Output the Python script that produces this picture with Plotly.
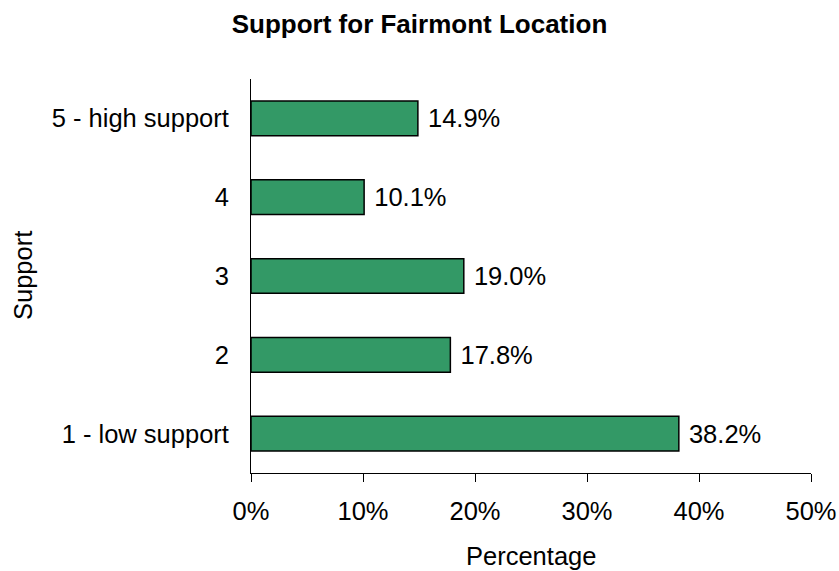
import plotly.graph_objects as go

categories = ["1 - low support", "2", "3", "4", "5 - high support"]
values = [38.2, 17.8, 19.0, 10.1, 14.9]
x_ticks = [0, 10, 20, 30, 40, 50]
x_tick_labels = ["0%", "10%", "20%", "30%", "40%", "50%"]

FONT = "Arial, Liberation Sans, sans-serif"
FS = 25.5

W, H = 839, 571

fig = go.Figure(
    go.Bar(
        x=values,
        y=categories,
        orientation="h",
        width=0.44,
        marker=dict(color="#339966", line=dict(color="black", width=1.5)),
        texttemplate=" %{x:.1f}%",
        textposition="outside",
        constraintext="none",
        cliponaxis=False,
        outsidetextfont=dict(family=FONT, size=FS, color="black"),
        hoverinfo="skip",
    )
)

fig.update_layout(
    width=W,
    height=H,
    margin=dict(l=251, r=28, t=79, b=98, autoexpand=False),
    paper_bgcolor="white",
    plot_bgcolor="white",
    showlegend=False,
    font=dict(family=FONT, size=FS, color="black"),
    title=dict(
        text="<b>Support for Fairmont Location</b>",
        x=0.5,
        xanchor="center",
        y=1 - 24 / H,
        yanchor="middle",
        font=dict(family=FONT, size=26, color="black"),
    ),
    xaxis=dict(
        range=[0, 50],
        tickvals=x_ticks,
        ticktext=x_tick_labels,
        ticks="outside",
        ticklen=8,
        tickwidth=1,
        tickcolor="black",
        showline=True,
        linecolor="black",
        linewidth=1,
        showgrid=False,
        zeroline=False,
        automargin=False,
        ticklabelstandoff=7,
        ticklabeloverflow="allow",
        tickfont=dict(family=FONT, size=FS, color="black"),
    ),
    yaxis=dict(
        range=[-0.5, 4.5],
        ticks="",
        showline=True,
        linecolor="black",
        linewidth=1,
        showgrid=False,
        zeroline=False,
        automargin=False,
        ticklabelstandoff=16,
        tickfont=dict(family=FONT, size=FS, color="black"),
    ),
    annotations=[
        dict(
            text="Percentage",
            xref="paper", yref="paper",
            x=0.5, y=0,
            xanchor="center", yanchor="middle",
            yshift=-83,
            showarrow=False,
            font=dict(family=FONT, size=FS, color="black"),
        ),
        dict(
            text="Support",
            xref="paper", yref="paper",
            x=0, y=0.5,
            xanchor="center", yanchor="middle",
            xshift=-228,
            textangle=-90,
            showarrow=False,
            font=dict(family=FONT, size=FS, color="black"),
        ),
    ],
)

fig.write_html(
    "out.html",
    config={"displayModeBar": False},
    post_script="document.body.style.margin='0';document.body.style.overflow='hidden';",
)
